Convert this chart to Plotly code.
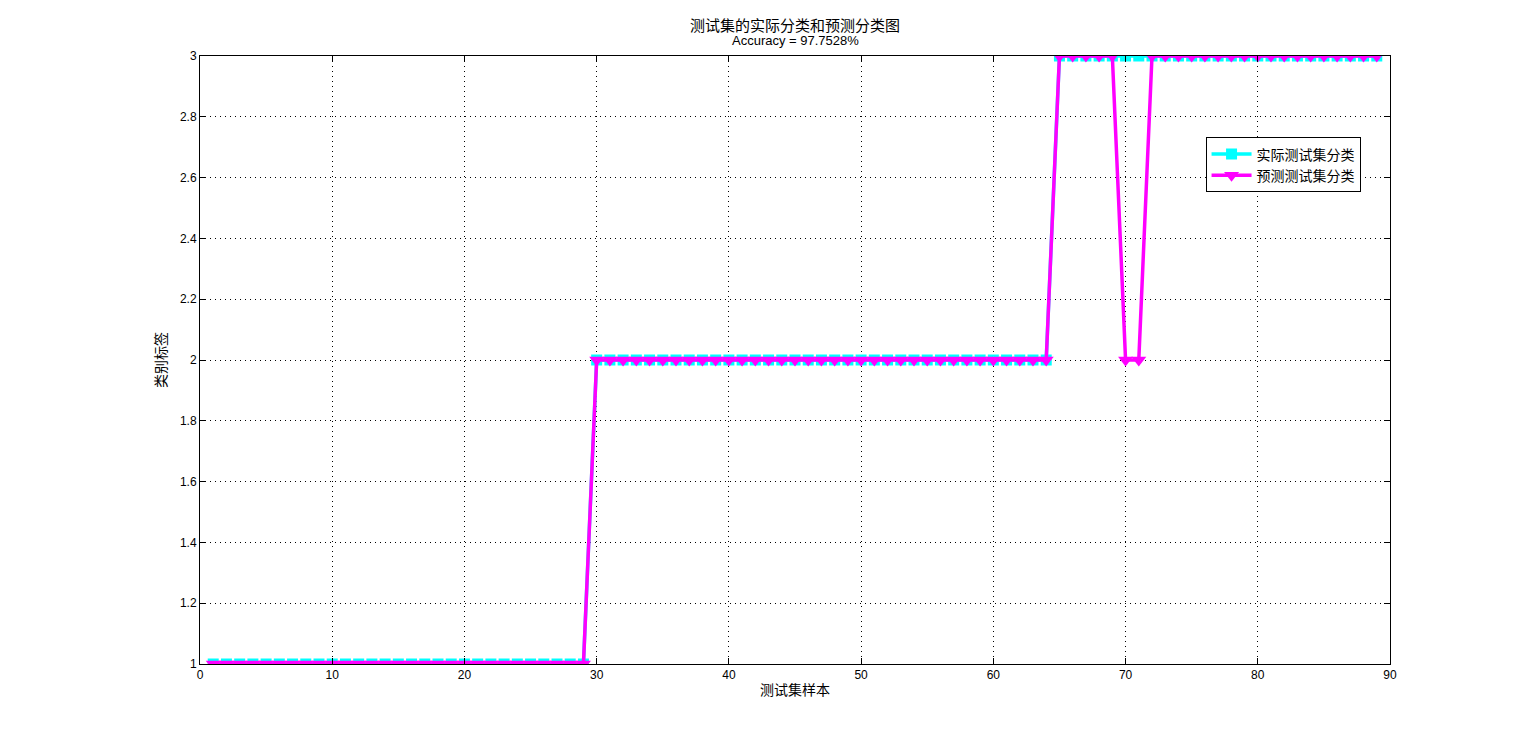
import plotly.graph_objects as go

sample_idx = list(range(1, 90))
actual_class = [1]*29 + [2]*35 + [3]*25
predicted_class = [1]*29 + [2]*35 + [3]*5 + [2]*2 + [3]*18
x_ticks = [0, 10, 20, 30, 40, 50, 60, 70, 80, 90]
y_ticks = [1, 1.2, 1.4, 1.6, 1.8, 2, 2.2, 2.4, 2.6, 2.8, 3]
y_tick_text = ["1", "1.2", "1.4", "1.6", "1.8", "2", "2.2", "2.4", "2.6", "2.8", "3"]

font_cjk = "Noto Sans CJK SC, DejaVu Sans, sans-serif"
font_lat = "Liberation Sans, Arial, sans-serif"

fig = go.Figure()
fig.add_trace(go.Scatter(
    x=sample_idx, y=actual_class, mode="lines+markers", name="实际测试集分类",
    line=dict(color="#00FFFF", width=3.5),
    marker=dict(symbol="square", size=11, color="#00FFFF"),
))
fig.add_trace(go.Scatter(
    x=sample_idx, y=predicted_class, mode="lines+markers", name="预测测试集分类",
    line=dict(color="#FF00FF", width=3.5),
    marker=dict(symbol="triangle-down", size=13, color="#FF00FF"),
))

axis_common = dict(
    showline=True, linecolor="black", linewidth=1, mirror="ticks",
    ticks="inside", ticklen=6, tickcolor="black",
    showgrid=True, gridcolor="black", griddash="1px,4px", gridwidth=1,
    zeroline=False, automargin=False,
    tickfont=dict(family=font_lat, size=12, color="black"),
)

ph = 608
fig.update_layout(
    width=1521, height=730,
    paper_bgcolor="white", plot_bgcolor="white",
    margin=dict(l=192, r=139, t=48, b=74),
    xaxis=dict(range=[0, 90], tickvals=x_ticks,
               title=dict(text="测试集样本", font=dict(family=font_cjk, size=14, color="black"), standoff=3),
               **axis_common),
    yaxis=dict(range=[1, 3], tickvals=y_ticks, ticktext=y_tick_text,
               title=dict(text="类别标签", font=dict(family=font_cjk, size=14, color="black"), standoff=10),
               **axis_common),
    legend=dict(
        x=0.845, y=0.866, xanchor="left", yanchor="top",
        bgcolor="white", bordercolor="black", borderwidth=1,
        font=dict(family=font_cjk, size=14, color="black"),
        tracegroupgap=0, itemwidth=40,
    ),
    showlegend=True,
)
fig.add_annotation(text="测试集的实际分类和预测分类图", x=0.5, xref="paper", y=1 + (56 - 24) / ph, yref="paper",
                   yanchor="middle", showarrow=False, font=dict(family=font_cjk, size=15, color="black"))
fig.add_annotation(text="Accuracy = 97.7528%", x=0.5, xref="paper", y=1 + (56 - 41) / ph, yref="paper",
                   yanchor="middle", showarrow=False, font=dict(family=font_lat, size=13, color="black"))

fig.write_html("out.html")
